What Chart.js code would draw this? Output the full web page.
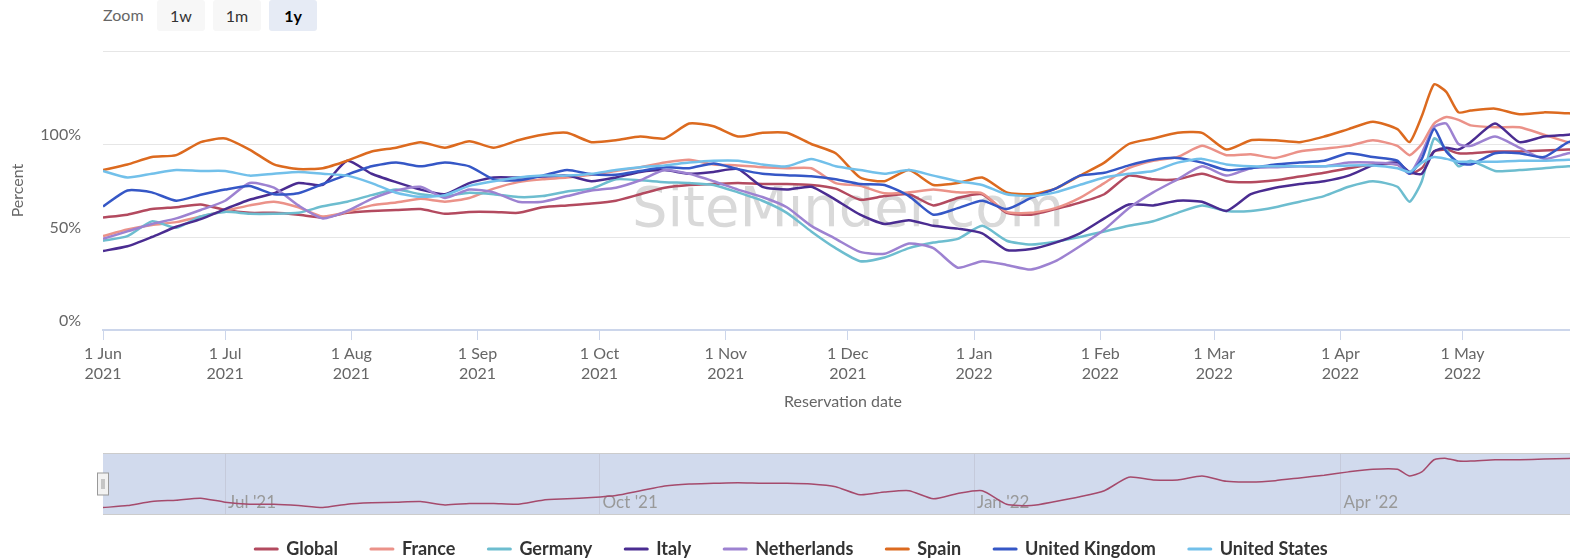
<!DOCTYPE html>
<html>
<head>
<meta charset="utf-8">
<title>Occupancy vs 2019</title>
<script src="https://cdn.jsdelivr.net/npm/chart.js@4.4.1/dist/chart.umd.min.js"></script>
<style>
  html, body { margin: 0; padding: 0; background: #fff; width: 1570px; height: 560px; overflow: hidden; font-family: Lato, sans-serif; }
  #main { position: absolute; left: 0; top: 0; }
  #nav  { position: absolute; left: 0; top: 440px; }
  .zoom-lbl { position: absolute; left: 103px; top: 5px; font-size: 16px; line-height: 20px; color: #666; }
  .zoom-btn { position: absolute; top: 0; width: 48px; height: 31px; line-height: 31px; text-align: center;
              font-size: 16px; color: #333; background: #f7f7f7; border-radius: 3px; }
  .zoom-btn.on { background: #e6ebf5; font-weight: bold; color: #000; }
</style>
</head>
<body>
<div class="zoom-lbl">Zoom</div>
<div class="zoom-btn" style="left:157px">1w</div>
<div class="zoom-btn" style="left:213px">1m</div>
<div class="zoom-btn on" style="left:269px">1y</div>
<canvas id="main" width="1590" height="568"></canvas>
<canvas id="nav" width="1590" height="80"></canvas>
<script>
'use strict';

// ---- data (day offset from 1 Jun 2021, percent of 2019) ----
const DAYS = [0,6,12,18,24,30,36,42,48,54,60,66,72,78,84,90,
  96,102,108,114,120,126,132,138,144,150,156,162,168,174,180,
  186,192,198,204,210,216,222,228,234,240,246,252,258,264,270,276,
  282,288,294,300,306,312,318,321,324,327,330,333,336,342,348,354,360,364];

const GLOBAL = [60.5,62,65,66,67.5,64.5,63,63,62,60.5,63,64,64.5,65,62.5,63.5,
  63.5,63,66,67,68,69.5,73,76.5,78,78.5,79,78.5,78.5,78,76,
  70,72,73,67,71,73,63,62,65,68.5,73,83,81,81,84,80,
  79.5,80.5,82.5,84.5,87,89,89,84,87,96,97,95,95,96,96,96.5,97,97];
const FRANCE = [50.5,54,56.5,58,61,64,67,69,66,61,63.5,67,68.5,70.5,69,71,
  76,79.5,81,82,83.5,85.5,87.5,90,91.5,89,88.5,87.5,87,87,79,
  77.5,73.5,74,75.5,74,73.5,63.5,63,65.5,71,79,87,91,93,99,94,
  94.5,92.5,96,97.5,99,102,99,94,100,111,114.5,113,110,109,109,105,101,100];
const GERMANY = [48,50.5,58.4,55,61,63.5,62.5,62.5,63,66.5,69,72.5,75.5,73,72,73.8,
  73,71.5,72,74.5,76,81,80.5,79.5,79,78,74,69.5,63,53,44,
  37,39,44,47,49,56,48,46,47.5,50,53,56,58.5,63,67,64,
  64,66,69,72,77,80,77,69,80,103,97,88,91,85.5,86,87,88,88];
const ITALY = [42.5,45,50,55.5,59.6,65,70,73.5,79,78,91,84,79.5,75.5,73,79,
  82,82,82.5,83,80,82,85,86,84,85,86.5,77,75.5,77,70,
  62,57,59,56,54.5,52,43,43.5,47,52,60,67.5,67,69.5,69,64,
  73,76.5,78.5,80,83,88.5,90,85,84,96,98,97,101,111,101,104,105,106];
const NETHERLANDS = [49,53,57,60,64.5,69.5,79,76.5,67,60,64,70.5,75,77,71,75.5,
  74,69,69,72,75,76.5,80.5,86,84,80,75.5,71.5,66,56,49,
  42,41,46.5,44,33.5,37,35,32.5,37,45,54,65.5,74,81,88,83,
  87,87.5,88,88,90,90,89,84,95,109,111,100,99,104,98,92,95,96];
const SPAIN = [86,89,93,94,101,103,97,89,86.5,87,91,96,98,101,98,101.5,
  98,102,105,106,101,102,104,103,111,109.5,104,106,106,100,95,
  82,80,86,78,79,82,74,73,76,83,90,100,103,106,106,97,
  102,102,101,104,108,112,108,101,115,132,128,117,118,119,116,117,116.5,116];
const UK = [66.4,75,74,69.5,72.7,75.5,77.4,73,73.5,78.5,83.5,88,90,88,90,88,
  81,80.5,83,86,83.7,83.5,85.5,87.5,87,89.5,86.5,84,83.2,82.6,81,
  78.5,78,72,62,65.5,69.5,65,71,76,83,84.5,88.5,91.5,92.5,90,86,
  87,89,90,91,95,93,91,84,92,108,96,90,89,95,95,93,101,102];
const USA = [85.5,82,84,86,85.5,85.5,83,84,85,84,83,79,73.8,71.6,72.5,77.5,
  80,82,83,83,84,86,87.5,88.5,90,91,91,89,88,92,88,
  86,84,86,83,80,78,73,72,74,78,82,84,85.5,90,92,89,
  88,88,88,88,88.5,88.5,87,85,90,93,92,90.5,90.5,90.5,91,91,91.5,91.5];

const SERIES_NAMES  = ['Global','France','Germany','Italy','Netherlands','Spain','United Kingdom','United States'];
const SERIES_VALUES = [GLOBAL, FRANCE, GERMANY, ITALY, NETHERLANDS, SPAIN, UK, USA];
const SERIES_COLORS = ['#b34a5f','#eb9289','#6dbdcf','#4a2c91','#9d82d1','#dc6a1f','#3557c6','#72c0ea'];

const MONTH_DAYS   = [0,30,61,92,122,153,183,214,245,273,304,334];
const MONTH_LABELS = ['1 Jun','1 Jul','1 Aug','1 Sep','1 Oct','1 Nov','1 Dec','1 Jan','1 Feb','1 Mar','1 Apr','1 May'];
const MONTH_YEARS  = ['2021','2021','2021','2021','2021','2021','2021','2022','2022','2022','2022','2022'];
const Y_TICKS      = [0,50,100,150];
const NAV_DAYS     = [30,122,214,304];
const NAV_LABELS   = ["Jul '21","Oct '21","Jan '22","Apr '22"];

const X_MAX = 363.6;
const FONT = 'Lato';

function points(vals) { return vals.map((v, i) => ({ x: DAYS[i], y: v })); }

const watermark = {
  id: 'watermark',
  beforeDatasetsDraw(chart) {
    const ctx = chart.ctx;
    ctx.save();
    ctx.font = '56px "DejaVu Sans"';
    ctx.fillStyle = '#d9d9d9';
    ctx.textAlign = 'center';
    ctx.textBaseline = 'alphabetic';
    ctx.fillText('SiteMinder.com', 848, 226);
    ctx.restore();
  }
};

new Chart(document.getElementById('main'), {
  type: 'line',
  data: {
    datasets: SERIES_NAMES.map((name, i) => ({
      label: name,
      data: points(SERIES_VALUES[i]),
      borderColor: SERIES_COLORS[i],
      backgroundColor: SERIES_COLORS[i],
      borderWidth: 2.5,
      pointRadius: 0,
      tension: 0.2,
      order: SERIES_NAMES.length - i,
    }))
  },
  options: {
    responsive: false,
    animation: false,
    devicePixelRatio: 1,
    layout: { padding: { top: 51, right: 7, left: 0, bottom: 0 } },
    plugins: {
      tooltip: { enabled: false },
      legend: {
        position: 'bottom',
        labels: {
          usePointStyle: true,
          pointStyle: 'line',
          pointStyleWidth: 22,
          padding: 33,
          color: '#333',
          font: { family: FONT, size: 18, weight: 'bold' },
          generateLabels: chart => chart.data.datasets.map((d, i) => ({
            text: d.label, datasetIndex: i, hidden: false,
            strokeStyle: d.borderColor, fillStyle: d.borderColor,
            lineWidth: 3, lineCap: 'round', pointStyle: 'line', fontColor: '#333'
          }))
        }
      }
    },
    scales: {
      x: {
        type: 'linear', min: 0, max: X_MAX,
        afterBuildTicks: s => { s.ticks = MONTH_DAYS.map(v => ({ value: v })); },
        afterFit: s => { s.height = 177; },
        ticks: {
          autoSkip: false, maxRotation: 0, padding: 3, color: '#666',
          font: { family: FONT, size: 16, lineHeight: 1.3 },
          callback: (v, i) => [MONTH_LABELS[i], MONTH_YEARS[i]]
        },
        grid: { drawOnChartArea: false, tickLength: 10, color: '#ccd6eb' },
        border: { color: '#ccd6eb', width: 2 },
        title: { display: true, text: 'Reservation date', color: '#666',
                 font: { family: FONT, size: 16 }, padding: { top: 0, bottom: 96 } }
      },
      y: {
        min: 0, max: 150,
        afterBuildTicks: s => { s.ticks = Y_TICKS.map(v => ({ value: v })); },
        afterFit: s => { s.width = 103; },
        ticks: { padding: 22, labelOffset: -9, color: '#666',
                 font: { family: FONT, size: 16 },
                 callback: v => v === 150 ? '' : v + '%' },
        grid: { color: '#e6e6e6', drawTicks: false },
        border: { display: false },
        title: { display: true, text: 'Percent', color: '#666',
                 font: { family: FONT, size: 16 }, padding: { top: 8, bottom: 0 } }
      }
    }
  },
  plugins: [watermark]
});

// ---- navigator ----
const navFrame = {
  id: 'navFrame',
  beforeDraw(chart) {
    const { ctx, chartArea: a } = chart;
    ctx.save();
    ctx.fillStyle = 'rgba(102,133,194,0.3)';
    ctx.fillRect(a.left, a.top, a.right - a.left, a.bottom - a.top);
    ctx.restore();
  },
  beforeDatasetsDraw(chart) {
    // quarter labels sit inside the navigator band
    const { ctx, chartArea: a, scales: { x } } = chart;
    ctx.save();
    ctx.font = '17px ' + FONT;
    ctx.fillStyle = '#999';
    ctx.textAlign = 'left';
    ctx.textBaseline = 'middle';
    NAV_DAYS.forEach((d, i) => ctx.fillText(NAV_LABELS[i], x.getPixelForValue(d) + 3, a.bottom - 12));
    ctx.restore();
  },
  afterDraw(chart) {
    const { ctx, chartArea: a } = chart;
    ctx.save();
    ctx.strokeStyle = '#cccccc';
    ctx.lineWidth = 1;
    ctx.beginPath();
    ctx.moveTo(a.left, a.top + 0.5); ctx.lineTo(a.right, a.top + 0.5);
    ctx.moveTo(a.left, a.bottom - 0.5); ctx.lineTo(a.right, a.bottom - 0.5);
    ctx.stroke();
    // left handle
    const hx = a.left - 5.5, hy = (a.top + a.bottom) / 2 - 11;
    ctx.fillStyle = '#f2f2f2';
    ctx.strokeStyle = '#999999';
    ctx.fillRect(hx, hy, 11, 22);
    ctx.strokeRect(hx, hy, 11, 22);
    ctx.beginPath();
    ctx.moveTo(hx + 4.5, hy + 6); ctx.lineTo(hx + 4.5, hy + 16);
    ctx.moveTo(hx + 6.5, hy + 6); ctx.lineTo(hx + 6.5, hy + 16);
    ctx.stroke();
    ctx.restore();
  }
};

new Chart(document.getElementById('nav'), {
  type: 'line',
  data: {
    datasets: [{
      label: 'Global',
      data: points(GLOBAL),
      borderColor: '#a54a6c',
      borderWidth: 1.5,
      pointRadius: 0,
      tension: 0.2
    }]
  },
  options: {
    responsive: false,
    animation: false,
    devicePixelRatio: 1,
    layout: { padding: { top: 13, right: 7, left: 103, bottom: 5 } },
    plugins: { legend: { display: false }, tooltip: { enabled: false } },
    scales: {
      x: {
        type: 'linear', min: 0, max: X_MAX,
        afterBuildTicks: s => { s.ticks = NAV_DAYS.map(v => ({ value: v })); },
        afterFit: s => { s.height = 0; },
        ticks: { display: false },
        grid: { drawTicks: false, color: '#c5cadb' },
        border: { display: false }
      },
      y: { display: false, min: 55, max: 101 }
    }
  },
  plugins: [navFrame]
});
</script>
</body>
</html>
